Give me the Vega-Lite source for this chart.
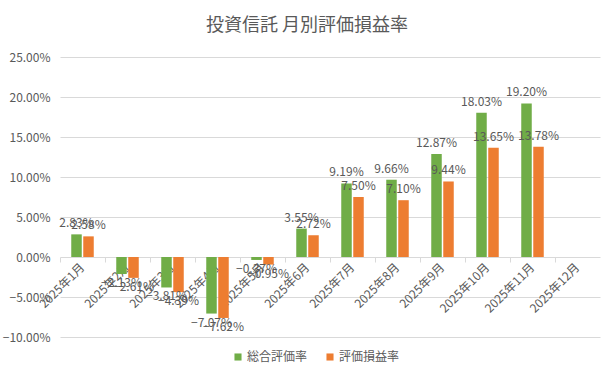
{
  "$schema": "https://vega.github.io/schema/vega-lite/v6.json",
  "width": 540,
  "height": 280,
  "autosize": "none",
  "padding": {"left": 60, "top": 57, "right": 15, "bottom": 45},
  "background": "white",
  "title": {"text": "投資信託 月別評価損益率", "fontSize": 18, "fontWeight": "normal", "color": "#595959", "font": "Noto Sans CJK JP", "anchor": "middle", "frame": "group", "dx": -23, "offset": 16},
  "config": {
    "view": {"stroke": null},
    "font": "Noto Sans CJK JP",
    "axis": {"labelColor": "#595959", "labelFontSize": 12, "labelFont": "Noto Sans CJK JP"},
    "legend": {"labelColor": "#595959", "labelFontSize": 12, "labelFont": "Noto Sans CJK JP"}
  },
  "data": {"values": [
    {"month": "2025年1月", "series": "総合評価率", "value": 0.0283},
    {"month": "2025年1月", "series": "評価損益率", "value": 0.0258},
    {"month": "2025年2月", "series": "総合評価率", "value": -0.0213},
    {"month": "2025年2月", "series": "評価損益率", "value": -0.0261},
    {"month": "2025年3月", "series": "総合評価率", "value": -0.0381},
    {"month": "2025年3月", "series": "評価損益率", "value": -0.0439},
    {"month": "2025年4月", "series": "総合評価率", "value": -0.0707},
    {"month": "2025年4月", "series": "評価損益率", "value": -0.0762},
    {"month": "2025年5月", "series": "総合評価率", "value": -0.0037},
    {"month": "2025年5月", "series": "評価損益率", "value": -0.0095},
    {"month": "2025年6月", "series": "総合評価率", "value": 0.0355},
    {"month": "2025年6月", "series": "評価損益率", "value": 0.0272},
    {"month": "2025年7月", "series": "総合評価率", "value": 0.0919},
    {"month": "2025年7月", "series": "評価損益率", "value": 0.0750},
    {"month": "2025年8月", "series": "総合評価率", "value": 0.0966},
    {"month": "2025年8月", "series": "評価損益率", "value": 0.0710},
    {"month": "2025年9月", "series": "総合評価率", "value": 0.1287},
    {"month": "2025年9月", "series": "評価損益率", "value": 0.0944},
    {"month": "2025年10月", "series": "総合評価率", "value": 0.1803},
    {"month": "2025年10月", "series": "評価損益率", "value": 0.1365},
    {"month": "2025年11月", "series": "総合評価率", "value": 0.1920},
    {"month": "2025年11月", "series": "評価損益率", "value": 0.1378}
  ]},
  "resolve": {"axis": {"x": "independent"}},
  "encoding": {
    "xOffset": {"field": "series", "type": "nominal", "scale": {"domain": ["総合評価率", "評価損益率"], "paddingInner": 0.125, "paddingOuter": 0.9375}},
    "y": {"field": "value", "type": "quantitative",
      "scale": {"domain": [-0.1, 0.25], "nice": false, "zero": false},
      "axis": {"title": null, "format": ".2%", "values": [-0.1, -0.05, 0, 0.05, 0.1, 0.15, 0.2, 0.25], "labelOverlap": false, "domain": false, "ticks": false, "labelPadding": 10, "gridColor": "#d9d9d9", "gridWidth": 1}}
  },
  "layer": [
    {
      "mark": {"type": "bar"},
      "encoding": {
        "x": {"field": "month", "type": "nominal", "sort": null,
          "scale": {"domain": ["2025年1月","2025年2月","2025年3月","2025年4月","2025年5月","2025年6月","2025年7月","2025年8月","2025年9月","2025年10月","2025年11月","2025年12月"], "paddingInner": 0, "paddingOuter": 0},
          "axis": {"orient": "bottom", "title": null, "labelAngle": -45, "labelAlign": "right", "labelBaseline": "middle", "ticks": false, "domain": false, "labelPadding": 8, "offset": -80}},
        "color": {"field": "series", "type": "nominal",
          "scale": {"domain": ["総合評価率", "評価損益率"], "range": ["#70AD47", "#ED7D31"]},
          "legend": {"title": null, "orient": "none", "legendX": 172, "legendY": 294, "direction": "horizontal", "symbolType": "square", "symbolSize": 50, "symbolStrokeWidth": 0, "columnPadding": 16, "labelOffset": 3}}
      }
    },
    {
      "transform": [{"filter": "datum.value >= 0"}],
      "mark": {"type": "text", "baseline": "bottom", "dy": -4, "fontSize": 12, "color": "#595959"},
      "encoding": {
        "x": {"field": "month", "type": "nominal", "sort": null,
          "axis": {"orient": "bottom", "title": null, "labels": false, "domain": false, "ticks": true, "tickColor": "#d9d9d9", "tickSize": 5, "bandPosition": 0, "offset": -80}},
        "text": {"field": "value", "type": "quantitative", "format": ".2%"}
      }
    },
    {
      "transform": [{"filter": "datum.value < 0"}],
      "mark": {"type": "text", "baseline": "top", "dy": 4, "fontSize": 12, "color": "#595959"},
      "encoding": {
        "x": {"field": "month", "type": "nominal", "sort": null, "axis": null},
        "text": {"field": "value", "type": "quantitative", "format": ".2%"}
      }
    }
  ]
}
